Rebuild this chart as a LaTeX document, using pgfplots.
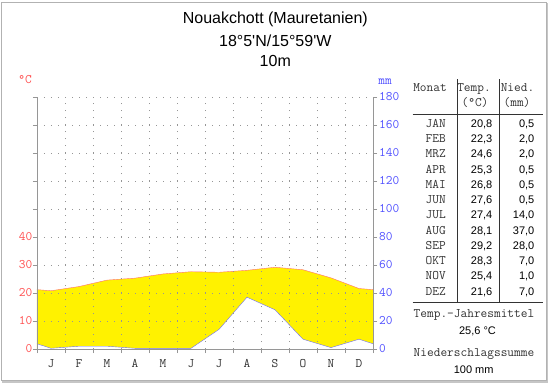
\documentclass[border=0pt]{standalone}
\usepackage{fontspec}
\newfontfamily\sansf{Liberation Sans}
\usepackage{pgfplots}
\usepackage{pgfplotstable}
\pgfplotsset{compat=1.18}
\definecolor{tred}{RGB}{255,80,80}
\definecolor{tblue}{RGB}{80,80,255}
\definecolor{tline}{RGB}{255,110,110}
\definecolor{pline}{RGB}{110,110,230}
\definecolor{fgray}{RGB}{150,150,150}
\newcommand\monof{\ttfamily\fontsize{13}{15}\selectfont}
\newcommand\numf{\sansf\fontsize{11}{13}\selectfont}
\pgfplotstableread{
x T P
0 21.2 3.75
0.5 20.8 0.5
1.5 22.3 2.0
2.5 24.6 2.0
3.5 25.3 0.5
4.5 26.8 0.5
5.5 27.6 0.5
6.5 27.4 14.0
7.5 28.1 37.0
8.5 29.2 28.0
9.5 28.3 7.0
10.5 25.4 1.0
11.5 21.6 7.0
12 21.2 3.75
}\climate
\begin{document}
\begin{tikzpicture}[x=1pt,y=1pt]
\fill[white] (0,0) rectangle (550,384);
\begin{axis}[
  at={(37pt,35pt)}, anchor=south west, scale only axis, width=336pt, height=252pt,
  xmin=0, xmax=12, ymin=0, ymax=90,
  axis x line*=bottom, axis y line*=left,
  axis line style={fgray},
  xtick={0,1,...,12}, xticklabels={},
  extra x ticks={0.5,1.5,...,11.5},
  extra x tick labels={J,F,M,A,M,J,J,A,S,O,N,D},
  extra x tick style={grid=none, major tick length=0pt,
    xticklabel style={font=\monof, text=black!80, inner sep=0pt, yshift=-10pt}},
  ytick={0,10,...,90}, yticklabels={0,10,20,30,40,{},{},{},{},{}},
  yticklabel style={font=\monof, text=tred, inner sep=0.5pt},
  tick align=outside, major tick length=4pt,
  tick style={fgray, thin},
  xmajorgrids, ymajorgrids,
  grid style={fgray, dash pattern=on 1pt off 6pt},
  axis on top,
]
\addplot[fill=yellow, draw=none] table[x=x,y=T]{\climate} \closedcycle;
\addplot[fill=white, draw=none] table[x=x,y expr=\thisrow{P}/2]{\climate} \closedcycle;
\addplot[tline, thin] table[x=x,y=T]{\climate};
\addplot[pline, thin] table[x=x,y expr=\thisrow{P}/2]{\climate};
\end{axis}
\begin{axis}[
  at={(37pt,35pt)}, anchor=south west, scale only axis, width=336pt, height=252pt,
  xmin=0, xmax=12, ymin=0, ymax=180,
  axis x line=none, axis y line*=right,
  axis line style={fgray},
  ytick={0,20,...,180}, yticklabels={0,20,40,60,80,100,120,140,160,180},
  yticklabel style={font=\monof, text=tblue, inner sep=2pt},
  tick align=outside, major tick length=4pt,
  tick style={fgray, thin},
]
\addplot[draw=none] coordinates {(0,0)};
\end{axis}
% frame
\draw[gray!60, line width=1pt] (1.5,3.5) rectangle (546,381.5);
\draw[gray!45, line width=1.5pt] (547.5,2) -- (547.5,381);
\draw[gray!45, line width=1.5pt] (2,2.2) -- (548,2.2);
% titles
\node[font=\sansf\fontsize{16}{19}\selectfont, anchor=base] at (275.3,360) {Nouakchott (Mauretanien)};
\node[font=\sansf\fontsize{16}{19}\selectfont, anchor=base] at (275.3,337.3) {18°5'N/15°59'W};
\node[font=\sansf\fontsize{16}{19}\selectfont, anchor=base] at (275.3,317.3) {10m};
\node[font=\monof, text=tred] at (25,304) {°C};
\node[font=\monof, text=tblue] at (385,302.3) {mm};
% table
\draw[black!80] (456.7,305) -- (456.7,82.3);
\draw[black!80] (499,305) -- (499,82.3);
\draw[black!80] (412.7,270) -- (542.7,270);
\draw[black!80] (412.7,82.3) -- (542.7,82.3);
\node[font=\monof, text=black!80, anchor=base] at (430,292.8) {Monat};
\node[font=\monof, text=black!80, anchor=base] at (474,292.8) {Temp.};
\node[font=\monof, text=black!80, anchor=base] at (475,277.5) {(°C)};
\node[font=\monof, text=black!80, anchor=base] at (517.5,292.8) {Nied.};
\node[font=\monof, text=black!80, anchor=base] at (517,277.5) {(mm)};
\foreach \m/\t/\p [count=\i from 0] in {JAN/{20,8}/{0,5}, FEB/{22,3}/{2,0}, MRZ/{24,6}/{2,0}, APR/{25,3}/{0,5}, MAI/{26,8}/{0,5}, JUN/{27,6}/{0,5}, JUL/{27,4}/{14,0}, AUG/{28,1}/{37,0}, SEP/{29,2}/{28,0}, OKT/{28,3}/{7,0}, NOV/{25,4}/{1,0}, DEZ/{21,6}/{7,0}}{
  \pgfmathsetmacro\yy{256.8-15.27*\i}
  \node[font=\monof, text=black!80, anchor=base east, inner sep=0pt] at (446,\yy) {\m};
  \node[font=\numf, anchor=base east, inner sep=0pt] at (492.5,\yy) {\t};
  \node[font=\numf, anchor=base east, inner sep=0pt] at (534.5,\yy) {\p};
}
\node[font=\monof, text=black!80, anchor=base] at (474,67) {Temp.-Jahresmittel};
\node[font=\numf, anchor=base] at (477.5,49.4) {25,6 °C};
\node[font=\monof, text=black!80, anchor=base] at (474,28) {Niederschlagssumme};
\node[font=\numf, anchor=base] at (473.7,10.8) {100 mm};
\path (0,0) rectangle (550,384);
\end{tikzpicture}
\end{document}
